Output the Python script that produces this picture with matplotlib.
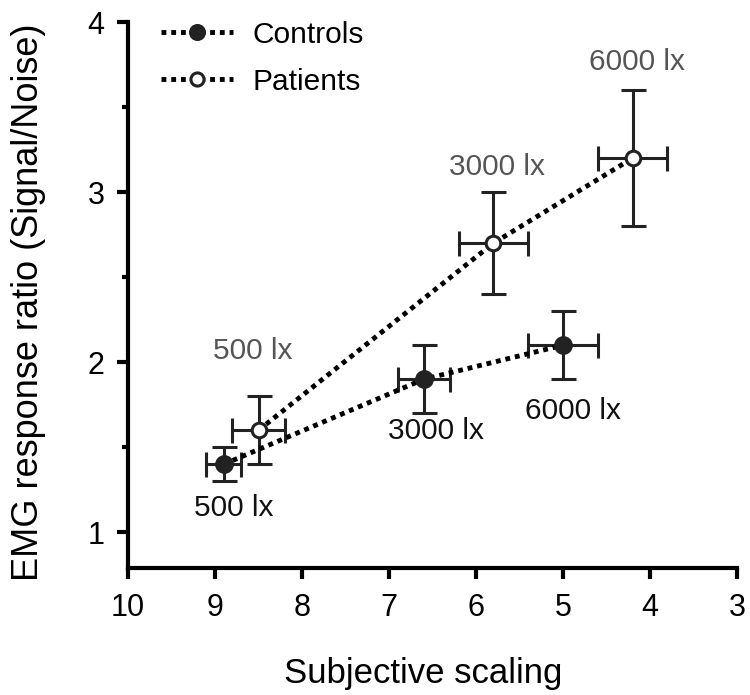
import matplotlib.pyplot as plt
from matplotlib.ticker import MultipleLocator

plt.rcParams["font.family"] = ["Liberation Sans", "DejaVu Sans"]

LUX_LABELS = ["500 lx", "3000 lx", "6000 lx"]

CONTROLS_X = [8.9, 6.6, 5.0]
CONTROLS_Y = [1.4, 1.9, 2.1]
CONTROLS_XERR = [0.2, 0.3, 0.4]
CONTROLS_YERR = [0.1, 0.2, 0.2]

PATIENTS_X = [8.5, 5.8, 4.2]
PATIENTS_Y = [1.6, 2.7, 3.2]
PATIENTS_XERR = [0.3, 0.4, 0.4]
PATIENTS_YERR = [0.2, 0.3, 0.4]

# label offsets in pixels relative to each point
CONTROLS_LABEL_OFFSETS = [(10, -44), (12, -52), (10, -66)]
PATIENTS_LABEL_OFFSETS = [(-6, 79), (4, 76), (4, 96)]

INK = "#222222"


def main():
    fig = plt.figure(figsize=(7.5, 6.95), dpi=100)
    ax = fig.add_axes([0.1707, 0.1827, 0.812, 0.7856])

    err_kw = dict(fmt="none", ecolor=INK, elinewidth=2.2, capsize=9, capthick=2.2, zorder=2)
    ax.errorbar(CONTROLS_X, CONTROLS_Y, xerr=CONTROLS_XERR, yerr=CONTROLS_YERR, **err_kw)
    ax.errorbar(PATIENTS_X, PATIENTS_Y, xerr=PATIENTS_XERR, yerr=PATIENTS_YERR, **err_kw)

    ctrl, = ax.plot(
        CONTROLS_X, CONTROLS_Y,
        color="black", linestyle=(0, (1, 1)), linewidth=3.5,
        marker="o", markersize=12.5, markerfacecolor=INK, markeredgecolor=INK,
        zorder=3, label="Controls",
    )
    pat, = ax.plot(
        PATIENTS_X, PATIENTS_Y,
        color="black", linestyle=(0, (1, 1)), linewidth=3.5,
        marker="o", markersize=10.5, markerfacecolor="white", markeredgecolor=INK,
        markeredgewidth=2.2, zorder=3, label="Patients",
    )

    for x, y, s, off in zip(CONTROLS_X, CONTROLS_Y, LUX_LABELS, CONTROLS_LABEL_OFFSETS):
        ax.annotate(s, (x, y), xytext=off, textcoords="offset pixels",
                    ha="center", va="center", fontsize=21.5, color="#111111")
    for x, y, s, off in zip(PATIENTS_X, PATIENTS_Y, LUX_LABELS, PATIENTS_LABEL_OFFSETS):
        ax.annotate(s, (x, y), xytext=off, textcoords="offset pixels",
                    ha="center", va="center", fontsize=21.5, color="#555555")

    ax.set_xlim(10, 3)
    ax.set_ylim(0.79, 4)
    ax.set_xticks(range(10, 2, -1))
    ax.set_yticks([1, 2, 3, 4])
    ax.yaxis.set_minor_locator(MultipleLocator(0.5))

    for side in ["top", "right"]:
        ax.spines[side].set_visible(False)
    for side in ["left", "bottom"]:
        ax.spines[side].set_linewidth(3)
        ax.spines[side].set_color("black")

    ax.tick_params(axis="both", which="major", length=8, width=3, labelsize=22)
    ax.tick_params(axis="x", which="major", pad=10)
    ax.tick_params(axis="y", which="major", pad=9)
    ax.tick_params(axis="y", which="minor", length=4, width=3)

    ax.set_xlabel("Subjective scaling", fontsize=25)
    ax.xaxis.set_label_coords(0.485, -0.163)
    ax.set_ylabel("EMG response ratio (Signal/Noise)", fontsize=26)
    ax.yaxis.set_label_coords(-0.135, 0.487)

    ax.legend(
        handles=[ctrl, pat], loc="upper left", bbox_to_anchor=(0.01, 1.052),
        frameon=False, fontsize=21.5, handlelength=2.4, handletextpad=0.65,
        labelspacing=0.65, markerscale=0.9,
    )

    fig.savefig("out.png", dpi=100)


if __name__ == "__main__":
    main()
